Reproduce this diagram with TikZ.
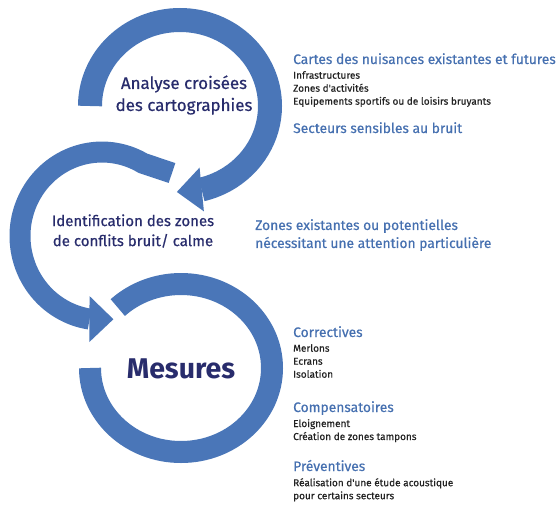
\documentclass[tikz,border=0pt]{standalone}
\usepackage{fontspec}
\setmainfont{Fira Sans}
\newfontfamily\medfont{Fira Sans}[FakeBold=0.6]
\usetikzlibrary{arrows.meta, bending, positioning}

\definecolor{ringblue}{RGB}{74,118,184}
\definecolor{headblue}{RGB}{70,112,176}
\definecolor{navy}{RGB}{40,44,108}
\definecolor{bodygray}{RGB}{35,35,35}

\begin{document}
\begin{tikzpicture}[x=1pt, y=1pt,
    ring/.style={draw=ringblue, line width=#1, line cap=butt},
    steptext/.style={text=navy, align=center, font=\medfont\fontsize{16.9}{22}\selectfont},
    head/.style={text=headblue, anchor=base west, inner sep=0pt,
        font=\medfont\fontsize{13.8}{18}\selectfont},
    items/.style={text=bodygray, align=left, inner sep=0pt,
        font=\medfont\fontsize{10}{13}\selectfont}]

    \useasboundingbox (0,0) rectangle (560,-504);

    % centres of the rings
    \coordinate (c1) at (180,-106);
    \coordinate (c2) at (102,-236);
    \coordinate (c3) at (181,-368);
    \coordinate (c2end) at (172,-173);

    % the three rings
    \draw[ring=24pt, -{Triangle[length=25pt, width=44pt, line width=0pt]}]
        ([xshift=-90pt]c1) arc[start angle=180, end angle=-92, x radius=90pt, y radius=86pt];
    \draw[ring=21pt, -{Triangle[length=24pt, width=46pt, line width=0pt]}]
        (c2end) -- ([shift={(41,72.7)}]c2)
        arc[start angle=60, end angle=278, x radius=82pt, y radius=84pt];
    \draw[ring=22pt]
        ([xshift=-91pt]c3) arc[start angle=180, end angle=494, x radius=91pt, y radius=84pt];

    % texts inside the rings
    \node[steptext] (analyse) at (184,-95) {Analyse croisées\\des cartographies};
    \node[steptext, font=\medfont\fontsize{15}{20}\selectfont] (identif) at (133,-231)
        {Identification des zones\\de conflits bruit/ calme};
    \node[steptext, font=\fontsize{28.5}{30}\selectfont\bfseries] (mesures) at (181,-369) {Mesures};

    % right hand column
    \node[head] (cartes) at (293,-64) {Cartes des nuisances existantes et futures};
    \node[items, below right=7pt and 0pt of cartes.base west] (cartes-list)
        {Infrastructures\\Zones d'activités\\Equipements sportifs ou de loisirs bruyants};
    \node[head] (secteurs) at (293,-133) {Secteurs sensibles au bruit};

    \node[head, anchor=north west, align=left] (zones) at (255,-219)
        {Zones existantes ou potentielles\\nécessitant une attention particulière};

    \node[head] (correct) at (293,-337) {Correctives};
    \node[items, below right=7pt and 0pt of correct.base west] (correct-list)
        {Merlons\\Ecrans\\Isolation};
    \node[head] (compens) at (293,-412) {Compensatoires};
    \node[items, below right=7pt and 0pt of compens.base west] (compens-list)
        {Eloignement\\Création de zones tampons};
    \node[head] (prevent) at (293,-471) {Préventives};
    \node[items, below right=7pt and 0pt of prevent.base west] (prevent-list)
        {Réalisation d'une étude acoustique\\pour certains secteurs};
\end{tikzpicture}
\end{document}
